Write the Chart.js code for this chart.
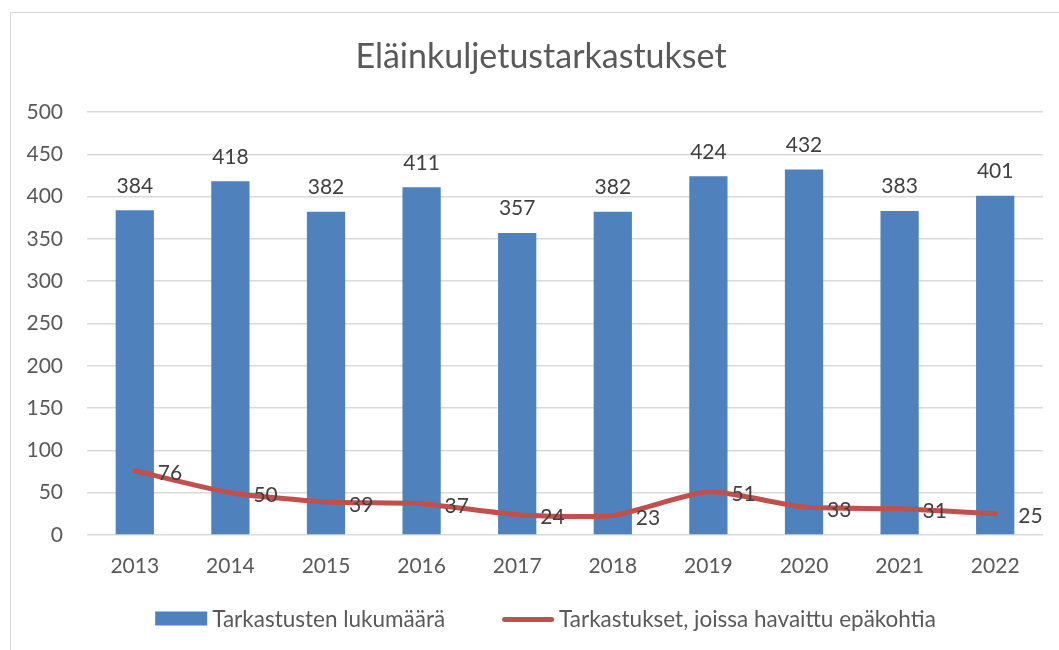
<!DOCTYPE html>
<html>
<head>
<meta charset="utf-8">
<script src="https://cdn.jsdelivr.net/npm/chart.js@4.4.0/dist/chart.umd.min.js"></script>
<style>
  html, body { margin: 0; padding: 0; background: #fff; overflow: hidden; }
  #wrap { position: relative; width: 1059px; height: 650px; }
  #frame { position: absolute; left: 10px; top: 12px; width: 1100px; height: 700px;
           border-left: 1.5px solid #D9D9D9; border-top: 1.5px solid #D9D9D9; box-sizing: border-box; }
  canvas { position: absolute; left: 0; top: 0; }
</style>
</head>
<body>
<div id="wrap">
  <div id="frame"></div>
  <canvas id="c" width="1059" height="650"></canvas>
</div>
<script>
const titleText = "Eläinkuljetustarkastukset";
const categories = ["2013","2014","2015","2016","2017","2018","2019","2020","2021","2022"];
const inspections = [384, 418, 382, 411, 357, 382, 424, 432, 383, 401];
const withIssues = [76, 50, 39, 37, 24, 23, 51, 33, 31, 25];
const seriesNames = ["Tarkastusten lukumäärä", "Tarkastukset, joissa havaittu epäkohtia"];
const yTicks = [0, 50, 100, 150, 200, 250, 300, 350, 400, 450, 500];

const FONT = "Lato, 'Open Sans', sans-serif";
const BAR_COLOR = "#4F81BD";
const LINE_COLOR = "#C0504D";

const labelsPlugin = {
  id: 'customLabels',
  afterDatasetsDraw(chart) {
    const ctx = chart.ctx;
    ctx.save();
    ctx.font = "21px " + FONT;
    ctx.fillStyle = "#404040";
    const barMeta = chart.getDatasetMeta(0);
    barMeta.data.forEach((el, i) => {
      ctx.textAlign = "center";
      ctx.textBaseline = "alphabetic";
      ctx.fillText(String(inspections[i]), el.x, el.y - 17.5);
    });
    const lineMeta = chart.getDatasetMeta(1);
    lineMeta.data.forEach((el, i) => {
      ctx.textAlign = "left";
      ctx.textBaseline = "alphabetic";
      ctx.fillText(String(withIssues[i]), el.x + 23, el.y + 9.5);
    });
    ctx.restore();
  },
  afterDraw(chart) {
    const ctx = chart.ctx;
    ctx.save();
    ctx.font = "34px " + FONT;
    ctx.fillStyle = "#595959";
    ctx.textAlign = "center";
    ctx.textBaseline = "alphabetic";
    ctx.fillText(titleText, 541, 68);
    ctx.font = "22.5px " + FONT;
    const w1 = ctx.measureText(seriesNames[0]).width;
    const w2 = ctx.measureText(seriesNames[1]).width;
    const sw = 52, gapT = 5, gapItems = 57;
    const total = sw + gapT + w1 + gapItems + sw + gapT + w2;
    let x = 545.5 - total / 2;
    const cy = 618.5;
    ctx.fillStyle = BAR_COLOR;
    ctx.fillRect(x, cy - 7, sw, 14);
    ctx.fillStyle = "#595959";
    ctx.textAlign = "left";
    ctx.textBaseline = "alphabetic";
    ctx.fillText(seriesNames[0], x + sw + gapT, cy + 8);
    x += sw + gapT + w1 + gapItems;
    ctx.strokeStyle = LINE_COLOR;
    ctx.lineWidth = 5;
    ctx.lineCap = "round";
    ctx.beginPath();
    ctx.moveTo(x + 2.5, cy + 1);
    ctx.lineTo(x + sw - 2.5, cy + 1);
    ctx.stroke();
    ctx.fillStyle = "#595959";
    ctx.fillText(seriesNames[1], x + sw + gapT, cy + 8);
    ctx.restore();
  }
};

new Chart(document.getElementById('c'), {
  data: {
    labels: categories,
    datasets: [
      {
        type: 'bar',
        label: seriesNames[0],
        data: inspections,
        backgroundColor: BAR_COLOR,
        barPercentage: 0.4,
        categoryPercentage: 1.0,
        order: 2
      },
      {
        type: 'line',
        label: seriesNames[1],
        data: withIssues,
        borderColor: LINE_COLOR,
        borderWidth: 5,
        borderCapStyle: 'round',
        borderJoinStyle: 'round',
        pointRadius: 0,
        tension: 0.2,
        fill: false,
        order: 1
      }
    ]
  },
  options: {
    responsive: false,
    animation: false,
    devicePixelRatio: 1,
    layout: { padding: { top: 112, left: 0, right: 16, bottom: 75 } },
    plugins: {
      legend: { display: false },
      title: { display: false },
      tooltip: { enabled: false }
    },
    scales: {
      x: {
        grid: { display: false, drawTicks: false },
        border: { display: false },
        ticks: { color: "#595959", font: { family: FONT, size: 21 }, padding: 19 },
        afterFit(scale) { scale.height = 40; }
      },
      y: {
        min: 0, max: 500,
        afterBuildTicks(scale) { scale.ticks = yTicks.map(v => ({ value: v })); },
        grid: { color: "#D9D9D9", lineWidth: 1.5, drawTicks: false },
        border: { display: false },
        ticks: { color: "#595959", font: { family: FONT, size: 21 }, padding: 24 },
        afterFit(scale) { scale.width = 87; }
      }
    }
  },
  plugins: [labelsPlugin]
});
</script>
</body>
</html>
